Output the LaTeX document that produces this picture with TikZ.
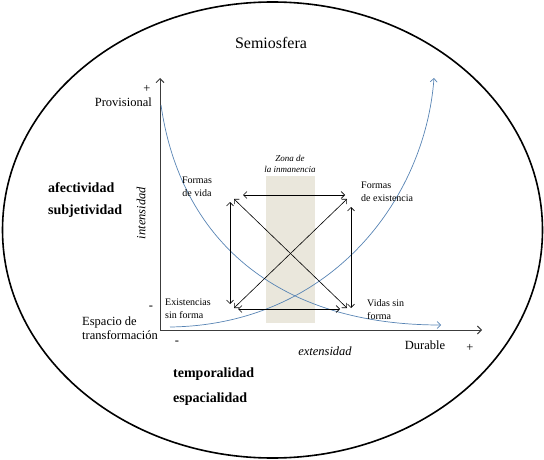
\documentclass[tikz,border=0pt]{standalone}
\usepackage{fontspec}
\setmainfont{Liberation Serif}
\usetikzlibrary{arrows.meta}
\definecolor{curveblue}{RGB}{88,132,180}
\definecolor{zonebeige}{RGB}{234,231,220}
\definecolor{axisgrey}{RGB}{60,60,60}

\begin{document}
\begin{tikzpicture}[
x=1pt, y=-1pt,
every node/.style={
inner sep=1pt,
font=\fontsize{12.5}{14}\selectfont
},
titletxt/.style={font=\fontsize{16}{18}\selectfont},
smalltxt/.style={align=left, font=\fontsize{10}{13}\selectfont},
zonetxt/.style={align=center, font=\itshape\fontsize{9}{11}\selectfont},
boldtxt/.style={anchor=west, font=\bfseries\fontsize{14}{16}\selectfont},
axistxt/.style={font=\itshape\fontsize{12.5}{14}\selectfont},
axis/.style={draw=axisgrey, line width=0.9pt,
  {Straight Barb[length=4pt,width=8pt]}-{Straight Barb[length=4pt,width=8pt]}},
curve/.style={draw=curveblue, line width=0.7pt,
  -{Straight Barb[length=3.5pt,width=7pt]}},
link/.style={line width=0.6pt,
  {Straight Barb[length=3.5pt,width=7pt]}-{Straight Barb[length=3.5pt,width=7pt]}}
]
\useasboundingbox (0,0) rectangle (544,460);

% semiosfera
\draw[line width=1.6pt] (272.5,230) ellipse [x radius=270pt, y radius=228pt];
\node[titletxt] (title) at (271,43) {Semiosfera};

% zona de la inmanencia
\fill[zonebeige] (266,176) rectangle (315,323);
\node[zonetxt] (zona) at (290,164) {Zona de\\la inmanencia};

% ejes
\coordinate (O) at (160,330);
\coordinate (ytop) at (160,78);
\coordinate (xend) at (482,330);
\draw[axis] (ytop) -- (O) -- (xend);

% curvas
\coordinate (c1s) at (161,105);
\coordinate (c1e) at (441,325);
\coordinate (c2s) at (170,327);
\coordinate (c2e) at (434,78);
\draw[curve] (c1s) .. controls (180,238) and (275,325) .. (c1e);
\draw[curve] (c2s) .. controls (330,325) and (425,200) .. (c2e);

% cuadrado de relaciones
\coordinate (tl) at (234,199);
\coordinate (tr) at (347,199);
\coordinate (bl) at (234,308);
\coordinate (br) at (347,308);
\draw[link] ([shift={(9,-4)}]tl) -- ([shift={(-2,-4)}]tr);
\draw[link] ([shift={(-4,3)}]tl) -- ([shift={(-4,-4)}]bl);
\draw[link] ([shift={(4,8)}]tr) -- ([shift={(4,0)}]br);
\draw[link] ([shift={(4,1)}]bl) -- ([shift={(-7,1)}]br);
\draw[link] (tl) -- (br);
\draw[link] (bl) -- (tr);

% textos
\node (ymax) at (147,89) {+};
\node[anchor=east] (prov) at (153,102) {Provisional};
\node[axistxt, rotate=90] (intens) at (141,213) {intensidad};
\node[boldtxt] (afect) at (47,188) {afectividad};
\node[boldtxt] (subj) at (47,211) {subjetividad};

\node[smalltxt, align=center] (fvida) at (197,187) {Formas\\de vida};
\node[smalltxt, anchor=west] (fexist) at (360,192) {Formas\\de existencia};
\node[smalltxt, anchor=west] (exsin) at (164,309) {Existencias\\sin forma};
\node[smalltxt, anchor=west] (vidas) at (366,310) {Vidas sin\\forma};

\node (ymin) at (151,308) {-};
\node[anchor=west, align=left] (espacio) at (81,328) {Espacio de\\transformación};
\node (xmin) at (177,343) {-};
\node (durable) at (425,345) {Durable};
\node (xmax) at (470,348) {+};
\node[axistxt] (extens) at (325,351) {extensidad};

\node[boldtxt] (tempo) at (172,374) {temporalidad};
\node[boldtxt] (espac) at (172,399) {espacialidad};

\end{tikzpicture}
\end{document}
